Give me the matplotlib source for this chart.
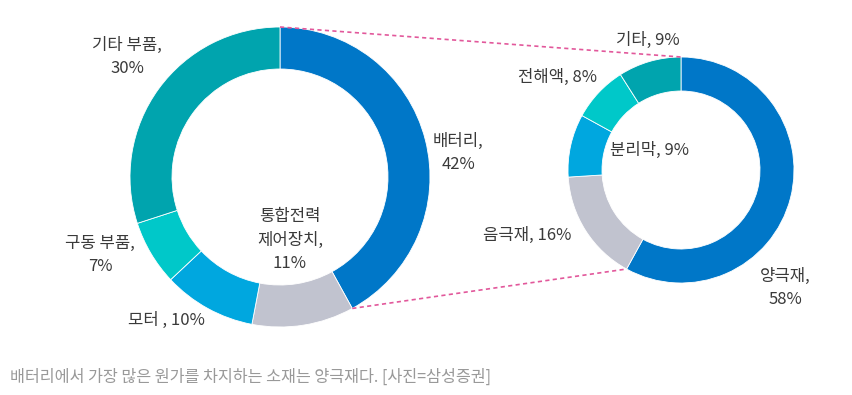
import numpy as np
import matplotlib.pyplot as plt

plt.rcParams['font.family'] = ['Noto Sans CJK KR', 'DejaVu Sans']

# 전기차 원가 구성 (왼쪽 도넛)
car_labels = ['배터리,\n42%', '통합전력\n제어장치,\n11%', '모터 , 10%', '구동 부품,\n7%', '기타 부품,\n30%']
car_values = [42, 11, 10, 7, 30]

# 배터리 원가 구성 (오른쪽 도넛)
bat_labels = ['양극재,\n58%', '음극재, 16%', '분리막, 9%', '전해액, 8%', '기타, 9%']
bat_values = [58, 16, 9, 8, 9]

colors = ['#0077C8', '#C1C3CF', '#00A7DF', '#00C8C9', '#00A4AE']
caption = '배터리에서 가장 많은 원가를 차지하는 소재는 양극재다. [사진=삼성증권]'

W, H = 852, 395
fig = plt.figure(figsize=(W / 100, H / 100), dpi=100)
ax = fig.add_axes([0, 0, 1, 1])

# 도넛 위치 (픽셀 좌표, y는 아래에서 위로)
c1, r1 = (280, H - 177), 150
c2, r2 = (681, H - 170), 113

ax.pie(car_values, colors=colors, startangle=90, counterclock=False,
       center=c1, radius=r1, frame=True,
       wedgeprops=dict(width=42, edgecolor='white', linewidth=0.6))
ax.pie(bat_values, colors=colors, startangle=90, counterclock=False,
       center=c2, radius=r2, frame=True,
       wedgeprops=dict(width=34, edgecolor='white', linewidth=0.6))

# 배터리 조각과 오른쪽 도넛을 잇는 점선
a1 = np.deg2rad(90 - 360 * car_values[0] / sum(car_values))
a2 = np.deg2rad(90 - 360 * bat_values[0] / sum(bat_values))
ax.plot([c1[0], c2[0]], [c1[1] + r1, c2[1] + r2], ls=(0, (2.5, 2)), color='#E2589B', lw=1.2)
ax.plot([c1[0] + r1 * np.cos(a1), c2[0] + r2 * np.cos(a2)],
        [c1[1] + r1 * np.sin(a1), c2[1] + r2 * np.sin(a2)],
        ls=(0, (2.5, 2)), color='#E2589B', lw=1.2)

# 라벨
txt = dict(fontsize=12, color='#3a3a3a', ha='center', va='center', linespacing=1.5)
car_pos = [(458, 153), (290, 240), (166, 320), (100, 255), (127, 57)]
bat_pos = [(785, 288), (527, 235), (650, 150), (557, 77), (648, 40)]
for lab, (x, y) in zip(car_labels, car_pos):
    ax.text(x, H - y, lab, **txt)
for lab, (x, y) in zip(bat_labels, bat_pos):
    ax.text(x, H - y, lab, **txt)

ax.text(10, H - 377, caption, fontsize=11.7, color='#999999', ha='left', va='center')

ax.set_xlim(0, W)
ax.set_ylim(0, H)
ax.set_aspect('auto')
ax.axis('off')

fig.savefig('out.png', dpi=100, facecolor='white')
